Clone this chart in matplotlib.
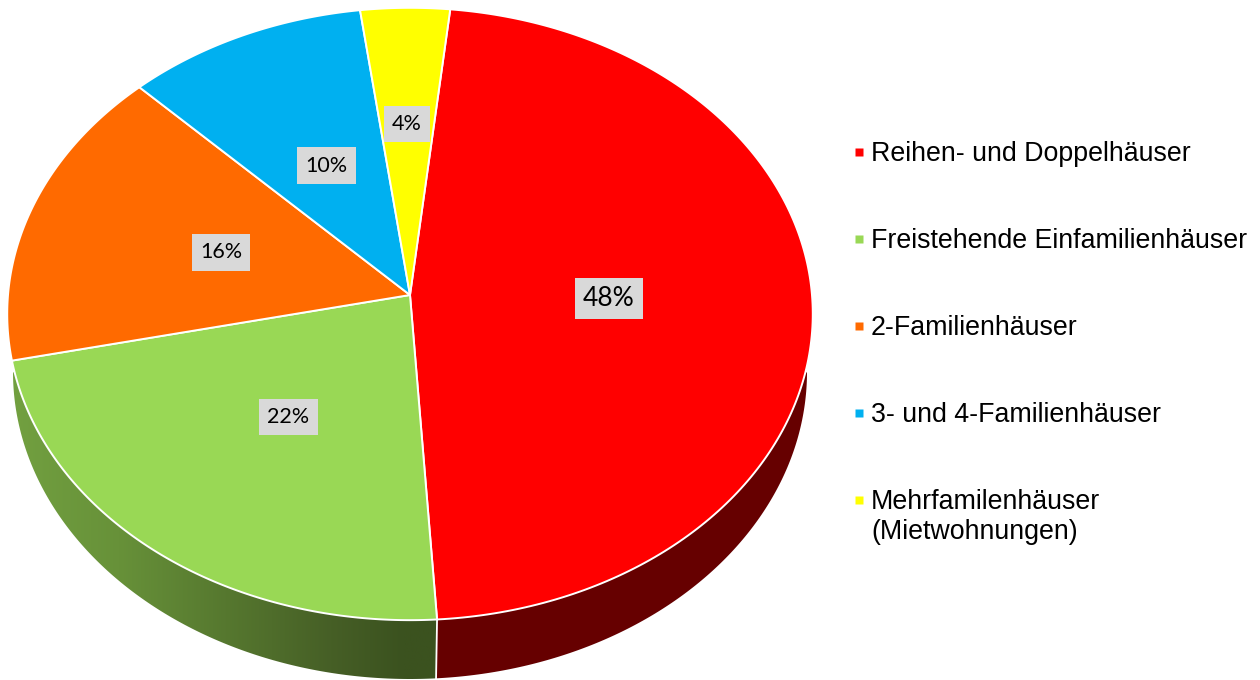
import matplotlib
matplotlib.use('Agg')
import matplotlib.pyplot as plt
import numpy as np
from matplotlib.colors import LinearSegmentedColormap
from matplotlib.patches import Polygon

categories = ['Reihen- und Doppelhäuser', 'Freistehende Einfamilienhäuser', '2-Familienhäuser',
              '3- und 4-Familienhäuser', 'Mehrfamilenhäuser\n(Mietwohnungen)']
shares = [47.3, 22.6, 16.0, 10.3, 3.8]  # read from the slice edges
share_labels = ['48%', '22%', '16%', '10%', '4%']
colors = ['#FF0000', '#99D855', '#FF6A00', '#00B0F0', '#FFFF00']

# layout of the tilted pie, in pixels
apex = (410, 295)
rx, ry, tilt = 402, 305, 0.062
start_angle = 6.1
label_radius = [0.495, 0.49, 0.495, 0.485, 0.58]
label_size = [19, 15.5, 15.5, 15.5, 15.5]
label_pad = [0.3, 0.38, 0.38, 0.38, 0.38]
legend_y = [152, 239, 326, 413, 500]


def project(angle, r=1.0):
    # angle in degrees clockwise from the top of the disc
    u = r * np.sin(np.radians(angle))
    v = r * np.cos(np.radians(angle))
    w = 1 + tilt * v
    return apex[0] + rx * u / w, apex[1] - ry * v / w


fig = plt.figure(figsize=(12.6, 6.8), dpi=100)
ax = fig.add_axes([0, 0, 1, 1])

edges = start_angle + np.concatenate([[0], np.cumsum(shares)]) * 360 / sum(shares)

# side wall: lower half of a second ellipse, cut at the red/green edge
side_t = np.linspace(0, np.pi, 300)
side_x = 410 + 397 * np.cos(side_t)
side_y = 372 + 307 * np.sin(side_t)
div_x, div_y = project(edges[1])
bottom_y = 372 + 307 * np.sqrt(1 - ((div_x - 1 - 410) / 397) ** 2)

right = side_x >= div_x
red_side = np.column_stack([np.r_[side_x[right], div_x - 1, div_x], np.r_[side_y[right], bottom_y, div_y]])
ax.add_patch(Polygon(red_side, closed=True, fc='#660000', ec='none', zorder=1))

left = side_x <= div_x
green_side = Polygon(np.column_stack([np.r_[div_x, div_x - 1, side_x[left]], np.r_[div_y, bottom_y, side_y[left]]]),
                     closed=True, fc='none', ec='none', zorder=1)
ax.add_patch(green_side)
cmap = LinearSegmentedColormap.from_list('side', [(0, '#72A040'), (0.25, '#679139'), (0.5, '#56782F'),
                                                  (0.75, '#465F26'), (0.92, '#3B521F'), (1, '#3B521F')])
img = ax.imshow(np.linspace(0, 1, 256)[None, :], extent=(13, div_x, 680, 372), cmap=cmap, aspect='auto', zorder=1)
img.set_clip_path(green_side)
ax.plot([div_x, div_x - 1], [div_y, bottom_y], color='white', lw=1.3, zorder=2)

# top face
for i in range(len(shares)):
    t = np.linspace(edges[i], edges[i + 1], 200)
    x, y = project(t)
    pts = np.column_stack([np.r_[apex[0], x], np.r_[apex[1], y]])
    ax.add_patch(Polygon(pts, closed=True, fc=colors[i], ec='white', lw=1.4, joinstyle='miter', zorder=3))

    mid = (edges[i] + edges[i + 1]) / 2
    lx, ly = project(mid, label_radius[i])
    ax.text(lx, ly, share_labels[i], family='Lato', fontsize=label_size[i], color='black', ha='center', va='center',
            bbox=dict(boxstyle='square,pad=%.2f' % label_pad[i], fc='#D9D9D9', ec='none'), zorder=4)

# legend
for name, color, y in zip(categories, colors, legend_y):
    ax.plot([859], [y], marker='s', ms=6.4, color=color, mec='none', ls='none', zorder=4)
    ax.text(871, y - 11, name, family='Liberation Sans', fontsize=19.3, color='black', ha='left', va='top',
            linespacing=1.22, zorder=4)

ax.set_xlim(0, 1260)
ax.set_ylim(680, 0)
ax.axis('off')
plt.savefig('out.png', dpi=100)
